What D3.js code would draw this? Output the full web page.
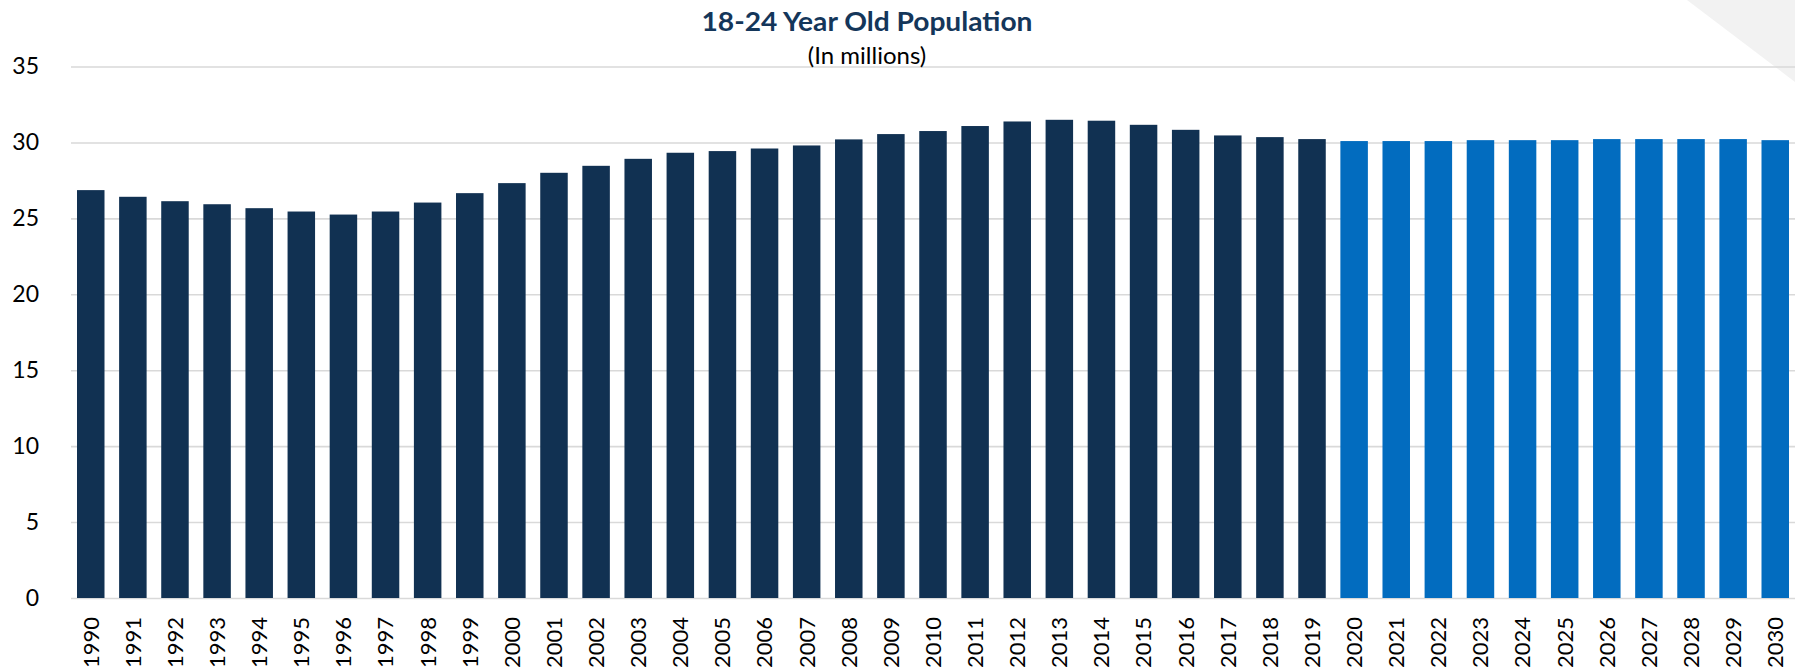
<!DOCTYPE html>
<html>
<head>
<meta charset="utf-8">
<script src="https://cdn.jsdelivr.net/npm/d3@7"></script>
<style>
  body { margin: 0; background: #fff; }
  svg { display: block; }
  .grid line { stroke: #d9d9d9; stroke-width: 1.6px; }
  .grid .domain { display: none; }
</style>
</head>
<body>
<svg id="chart"></svg>
<script>
const years = d3.range(1990, 2031).map(String);
const population = [
  26.86, 26.42, 26.13, 25.93, 25.67, 25.45, 25.25, 25.45, 26.04, 26.66,
  27.32, 28.0, 28.46, 28.92, 29.32, 29.43, 29.6, 29.8, 30.2, 30.55,
  30.75, 31.08, 31.38, 31.49, 31.43, 31.16, 30.83, 30.46, 30.35, 30.22,
  30.09, 30.09, 30.09, 30.15, 30.15, 30.15, 30.22, 30.22, 30.22, 30.22, 30.15
];
const projectedStart = 2020;
const yTicks = [0, 5, 10, 15, 20, 25, 30, 35];

const width = 1795;
const height = 670;

const svg = d3.select('#chart')
  .attr('width', width)
  .attr('height', height);

// grey corner decoration
svg.append('polygon')
  .attr('points', '1687,0 1795,0 1795,82')
  .attr('fill', '#f2f2f2');

const x = d3.scaleBand()
  .domain(years)
  .range([77, 1789])
  .paddingInner(0.347)
  .paddingOuter(0);

const y = d3.scaleLinear()
  .domain([0, 35])
  .range([598, 66.5]);

// gridlines + y labels
const yAxis = svg.append('g')
  .attr('class', 'grid')
  .attr('transform', 'translate(71,0)')
  .call(d3.axisLeft(y).tickValues(yTicks).tickSize(-(width - 71)).tickPadding(32));

yAxis.selectAll('text')
  .style('font-family', 'Lato, sans-serif')
  .style('font-size', '23px')
  .style('fill', '#000');

// bars
svg.append('g')
  .selectAll('rect')
  .data(population)
  .enter()
  .append('rect')
  .attr('x', (d, i) => x(years[i]))
  .attr('y', (d) => y(d))
  .attr('width', x.bandwidth())
  .attr('height', (d) => y(0) - y(d))
  .attr('fill', (d, i) => (+years[i] >= projectedStart ? '#026cbf' : '#113152'));

// x labels
const xAxis = svg.append('g')
  .attr('transform', `translate(0, ${y(0)})`)
  .call(d3.axisBottom(x).tickSize(0).tickPadding(0));

xAxis.select('.domain').remove();

xAxis.selectAll('text')
  .attr('transform', 'rotate(-90)')
  .attr('x', -19)
  .attr('y', 0)
  .attr('dy', '0.36em')
  .style('text-anchor', 'end')
  .style('font-family', 'Lato, sans-serif')
  .style('font-size', '22px')
  .style('fill', '#000');

// title
svg.append('text')
  .attr('x', 867)
  .attr('y', 31)
  .attr('text-anchor', 'middle')
  .attr('textLength', 331)
  .attr('lengthAdjust', 'spacingAndGlyphs')
  .style('font-family', 'Lato, sans-serif')
  .style('font-weight', 'bold')
  .style('font-size', '27px')
  .style('fill', '#14365a')
  .text('18-24 Year Old Population');

svg.append('text')
  .attr('x', 867)
  .attr('y', 64)
  .attr('text-anchor', 'middle')
  .style('font-family', 'Lato, sans-serif')
  .style('font-size', '24px')
  .style('fill', '#000')
  .text('(In millions)');
</script>
</body>
</html>
